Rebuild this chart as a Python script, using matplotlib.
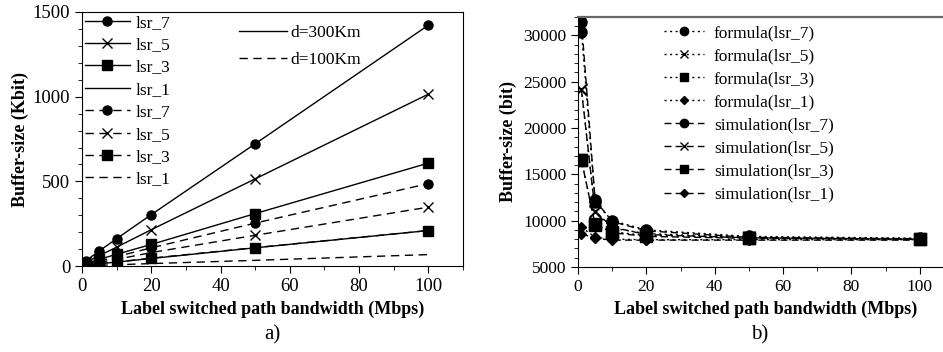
import matplotlib
matplotlib.use("Agg")
import matplotlib.pyplot as plt
from matplotlib.lines import Line2D
from matplotlib.ticker import MultipleLocator

plt.rcParams['font.family'] = ['Liberation Serif', 'DejaVu Serif']
plt.rcParams['mathtext.fontset'] = 'stix'

# ---- data: panel a) ----
bw = [1, 5, 10, 20, 50, 100]
lsr_labels = ['lsr_7', 'lsr_5', 'lsr_3', 'lsr_1']
d300 = {
    'lsr_7': [30, 90, 162, 304, 722, 1422],
    'lsr_5': [22, 62, 112, 215, 515, 1015],
    'lsr_3': [15, 40, 70, 128, 310, 608],
    'lsr_1': [5, 14, 24, 45, 108, 210],
}
d100 = {
    'lsr_7': [12, 30, 56, 108, 254, 487],
    'lsr_5': [9, 22, 40, 80, 182, 348],
    'lsr_3': [5, 13, 24, 47, 109, 210],
    'lsr_1': [2, 5, 8, 15, 34, 68],
}
distance_labels = ['d=300Km', 'd=100Km']

# ---- data: panel b) ----
formula = {
    'lsr_7': [30400, 12000, 10000, 9000, 8300, 8100],
    'lsr_5': [24200, 10900, 9200, 8600, 8200, 8050],
    'lsr_3': [16600, 9500, 8800, 8400, 8150, 8000],
    'lsr_1': [9300, 8200, 8000, 7950, 7950, 7950],
}
simulation = {
    'lsr_7': [31500, 12200, 9900, 8900, 8200, 8050],
    'lsr_5': [24100, 11000, 9300, 8500, 8150, 8000],
    'lsr_3': [16500, 9600, 8700, 8300, 8100, 8000],
    'lsr_1': [8600, 8100, 7900, 7900, 7900, 7900],
}

markers_a = {'lsr_7': 'o', 'lsr_5': 'x', 'lsr_3': 's', 'lsr_1': None}
markers_b = {'lsr_7': 'o', 'lsr_5': 'x', 'lsr_3': 's', 'lsr_1': 'D'}

fig = plt.figure(figsize=(9.43, 3.52), dpi=100)

# ---------- panel a ----------
ax1 = fig.add_axes([0.087, 0.244, 0.404, 0.722])
dash = (0, (6, 4))
for k in lsr_labels:
    m = markers_a[k]
    ax1.plot(bw, d300[k], color='black', lw=1.0, linestyle='-', marker=m,
             markersize=6.5 if m != 'x' else 7, markeredgewidth=1.0, label=k)
for k in lsr_labels:
    m = markers_a[k]
    ax1.plot(bw, d100[k], color='black', lw=1.0, linestyle=dash, marker=m,
             markersize=6.5 if m != 'x' else 7, markeredgewidth=1.0, label=k)
ax1.set_xlim(0, 110)
ax1.set_ylim(0, 1500)
ax1.xaxis.set_major_locator(MultipleLocator(20))
ax1.xaxis.set_minor_locator(MultipleLocator(10))
ax1.yaxis.set_major_locator(MultipleLocator(500))
ax1.yaxis.set_minor_locator(MultipleLocator(100))
ax1.tick_params(which='both', direction='out', labelsize=13.5)
ax1.tick_params(which='major', length=5)
ax1.tick_params(which='minor', length=3)
ax1.set_xlabel('Label switched path bandwidth (Mbps)', fontsize=13, fontweight='bold', labelpad=4)
ax1.set_ylabel('Buffer-size (Kbit)', fontsize=13, fontweight='bold', labelpad=3)
leg1 = ax1.legend(loc='upper left', frameon=False, fontsize=12.5, handlelength=2.6,
                  labelspacing=0.36, borderaxespad=0.05, handletextpad=0.35,
                  borderpad=0.1)
ax1.add_artist(leg1)
proxies = [Line2D([], [], color='black', lw=1.0, linestyle='-'),
           Line2D([], [], color='black', lw=1.0, linestyle=dash)]
ax1.legend(proxies, distance_labels, loc='upper left', bbox_to_anchor=(0.372, 1.01),
           frameon=False, fontsize=12.5, handlelength=2.75, labelspacing=0.6,
           handletextpad=0.2)
fig.text(0.289, 0.035, 'a)', fontsize=15, ha='center')

# ---------- panel b ----------
ax2 = fig.add_axes([0.613, 0.2415, 0.3985, 0.7105])
fstyle = (0, (1.5, 2.5))
sstyle = (0, (5, 3))
for k in lsr_labels:
    m = markers_b[k]
    ax2.plot(bw, formula[k], color='black', lw=1.0, linestyle=fstyle, marker=m,
             markersize=8 if m != 'D' else 5.5, markeredgewidth=1.0,
             label='formula(%s)' % k)
for k in lsr_labels:
    m = markers_b[k]
    ax2.plot(bw, simulation[k], color='black', lw=1.0, linestyle=sstyle, marker=m,
             markersize=8 if m != 'D' else 5.5, markeredgewidth=1.0,
             label='simulation(%s)' % k)
ax2.set_xlim(0, 110)
ax2.set_ylim(5000, 32000)
ax2.xaxis.set_major_locator(MultipleLocator(20))
ax2.xaxis.set_minor_locator(MultipleLocator(10))
ax2.yaxis.set_major_locator(MultipleLocator(5000))
ax2.yaxis.set_minor_locator(MultipleLocator(1000))
ax2.tick_params(which='both', direction='out', labelsize=12.5)
ax2.tick_params(which='major', length=5)
ax2.tick_params(which='minor', length=3)
ax2.spines['top'].set_color('#666666')
ax2.spines['top'].set_linewidth(1.6)
ax2.spines['right'].set_visible(False)
ax2.set_xlabel('Label switched path bandwidth (Mbps)', fontsize=13, fontweight='bold', labelpad=4)
ax2.set_ylabel('Buffer-size (bit)', fontsize=13, fontweight='bold', labelpad=4)
ax2.legend(loc='upper left', bbox_to_anchor=(0.2, 1.01), frameon=False, fontsize=12.5,
           handlelength=2.3, labelspacing=0.4, handletextpad=0.6, borderpad=0.1,
           markerscale=0.75)
fig.text(0.806, 0.035, 'b)', fontsize=15, ha='center')

fig.savefig('out.png', dpi=100)
